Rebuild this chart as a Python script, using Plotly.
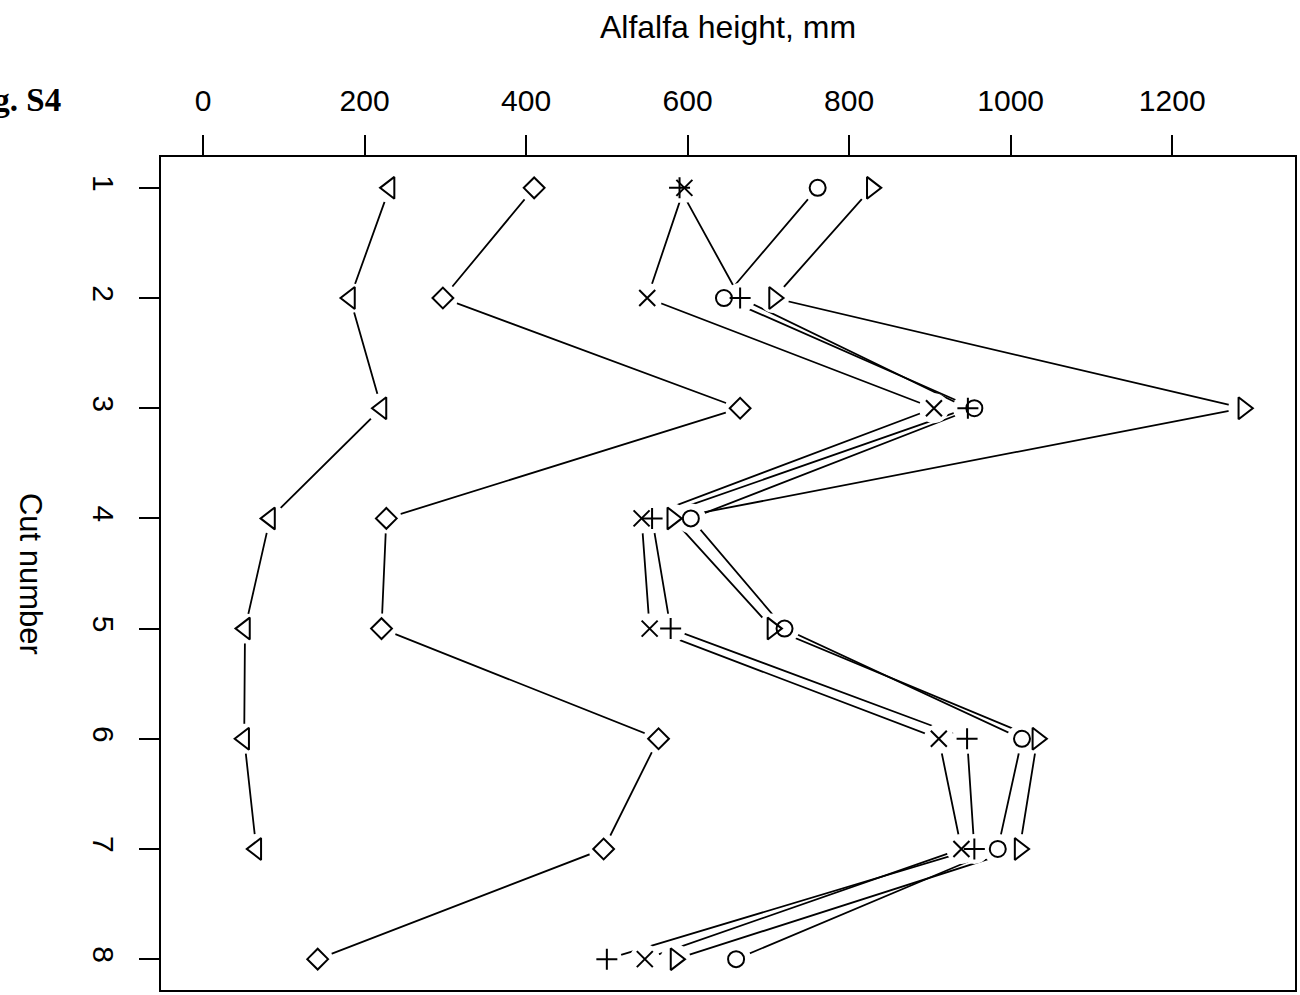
import plotly.graph_objects as go

cuts = [1, 2, 3, 4, 5, 6, 7, 8]
tri_left = [231, 182, 221, 83, 52, 51, 66, None]
diamond = [410, 297, 665, 227, 221, 564, 496, 142]
plus = [590, 665, 947, 556, 579, 946, 955, 500]
cross = [596, 550, 905, 543, 553, 911, 939, 547]
circle = [761, 645, 955, 604, 720, 1014, 984, 660]
tri_right = [828, 707, 1288, 581, 705, 1033, 1011, 585]

series = [
    (tri_left, "triangle-left-open", 19),
    (diamond, "diamond-open", 16),
    (plus, "cross-thin-open", 15),
    (cross, "x-thin-open", 16),
    (circle, "circle-open", 16),
    (tri_right, "triangle-right-open", 19),
]

x_ticks = [0, 200, 400, 600, 800, 1000, 1200]

fig = go.Figure()
# connecting lines
for vals, sym, sz in series:
    xs = [v for v in vals if v is not None]
    ys = [c for c, v in zip(cuts, vals) if v is not None]
    fig.add_trace(go.Scatter(x=xs, y=ys, mode="lines",
                             line=dict(color="black", width=1.8),
                             hoverinfo="skip", showlegend=False))
# white gaps around points
for vals, sym, sz in series:
    fig.add_trace(go.Scatter(x=vals, y=cuts, mode="markers",
                             marker=dict(symbol="circle", size=30, color="white",
                                         line=dict(width=0)),
                             hoverinfo="skip", showlegend=False))
# point symbols
for vals, sym, sz in series:
    fig.add_trace(go.Scatter(x=vals, y=cuts, mode="markers",
                             marker=dict(symbol=sym, size=sz, color="black",
                                         line=dict(color="black", width=2)),
                             showlegend=False))

fig.update_layout(
    width=1300, height=995,
    margin=dict(l=161, r=3, t=157, b=4),
    paper_bgcolor="white", plot_bgcolor="white",
    font=dict(family="Liberation Sans, Arial, sans-serif", color="black"),
    xaxis=dict(side="top", range=[-52, 1352], tickvals=x_ticks,
               ticktext=[str(t) for t in x_ticks],
               ticks="outside", ticklen=20, tickwidth=2, tickcolor="black",
               tickfont=dict(size=30), ticklabelstandoff=12,
               showgrid=False, zeroline=False,
               showline=True, linecolor="black", linewidth=2, mirror=True,
               title=dict(text="Alfalfa height, mm", font=dict(size=32), standoff=36)),
    yaxis=dict(range=[8.28, 0.72], tickvals=cuts,
               ticktext=[str(c) for c in cuts], tickangle=90,
               ticks="outside", ticklen=20, tickwidth=2, tickcolor="black",
               tickfont=dict(size=30), ticklabelstandoff=10,
               showgrid=False, zeroline=False,
               showline=True, linecolor="black", linewidth=2, mirror=True),
    annotations=[
        dict(text="Cut number", textangle=90, xref="paper", yref="paper",
             x=-0.115, y=0.5, xanchor="center", yanchor="middle", showarrow=False,
             font=dict(size=31)),
        dict(text="<b>Fig. S4</b>", xref="paper", yref="paper", x=-0.0865, y=1.068,
             xanchor="right", yanchor="middle", showarrow=False,
             font=dict(size=33, family="Liberation Serif, Times New Roman, serif")),
    ],
)

fig.write_html("out.html")
